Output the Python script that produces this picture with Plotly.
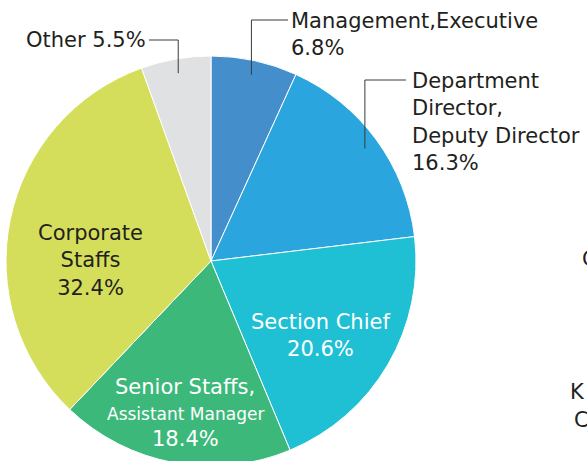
import math
import plotly.graph_objects as go

# ---- data ----
categories = ["Management,Executive", "Department Director, Deputy Director",
              "Section Chief", "Senior Staffs, Assistant Manager",
              "Corporate Staffs", "Other"]
shares = [6.8, 16.3, 20.6, 18.4, 32.4, 5.5]
colors = ["#448ecb", "#2aa5dd", "#1fbfd4", "#3cb97a", "#d5de5a", "#e0e1e3"]

# ---- layout geometry (pixels, viewport coordinates) ----
W, H = 587, 480
OX, OY = 0, 0          # page offset of the plot (body margin removed below)
R = 205
CX, CY = 211 - OX, 261 - OY
FONT = "DejaVu Sans"
DARK = "#231f20"
FS = 21


def px(x):
    return x / W


def py(y):
    return 1 - y / H


fig = go.Figure(go.Pie(
    labels=categories, values=shares, sort=False, direction="clockwise",
    rotation=0, textinfo="none", hoverinfo="label+percent",
    marker=dict(colors=colors, line=dict(color="white", width=1)),
    domain=dict(x=[px(max(CX - R, 0)), px(CX + R)], y=[py(CY + R), py(CY - R)]),
    showlegend=False,
))

# mid angles of slices (clockwise from 12 o'clock)
total = sum(shares)
mids = []
acc = 0
for v in shares:
    mids.append((acc + v / 2) / total * 2 * math.pi)
    acc += v


def anchor_pt(i, frac=0.93):
    a = mids[i]
    return CX + frac * R * math.sin(a), CY - frac * R * math.cos(a)


shapes = []


def leader(i, y_top, x_end):
    x0, y0 = anchor_pt(i)
    y_top -= OY
    x_end -= OX
    shapes.append(dict(type="line", xref="paper", yref="paper",
                       x0=px(x0), y0=py(y0), x1=px(x0), y1=py(y_top),
                       line=dict(color="#3a3a3a", width=1)))
    shapes.append(dict(type="line", xref="paper", yref="paper",
                       x0=px(x0), y0=py(y_top), x1=px(x_end), y1=py(y_top),
                       line=dict(color="#3a3a3a", width=1)))


leader(0, 20, 288)
leader(1, 80, 406)
leader(5, 40, 149)

ann = []


def text(t, x, y, xa="center", color=DARK, size=FS, align="center"):
    ann.append(dict(text=t, x=px(x - OX), y=py(y - OY), xref="paper", yref="paper",
                    xanchor=xa, yanchor="middle", showarrow=False, align=align,
                    font=dict(family=FONT, size=size, color=color)))


pct = [f"{v}%" for v in shares]
text(f"Management,Executive<br>{pct[0]}", 289, 35, xa="left", align="left")
text(f"Department<br>Director,<br>Deputy Director<br>{pct[1]}", 410, 122, xa="left", align="left")
text(f"Other {pct[5]}", 148, 40, xa="right", align="right")
text(f"Corporate<br>Staffs<br>{pct[4]}", 90, 260)
text(f"Section Chief<br>{pct[2]}", 320, 335, color="white")
text("Senior Staffs,", 185, 387, color="white")
text("Assistant Manager", 185, 414, color="white", size=17)
text(pct[3], 185, 439, color="white")
# clipped labels of neighbouring chart at right edge
text("C", 580, 259, xa="left")
text("K", 568, 392, xa="left")
text("C", 572, 420, xa="left")

fig.update_layout(width=W, height=H, margin=dict(l=0, r=0, t=0, b=0),
                  paper_bgcolor="white", plot_bgcolor="white",
                  shapes=shapes, annotations=ann)
fig.write_html(
    "out.html",
    config={"displayModeBar": False},
    post_script=("document.body.style.margin='0';"
                 "document.body.style.overflow='hidden';"
                 "document.documentElement.style.overflow='hidden';"),
)
